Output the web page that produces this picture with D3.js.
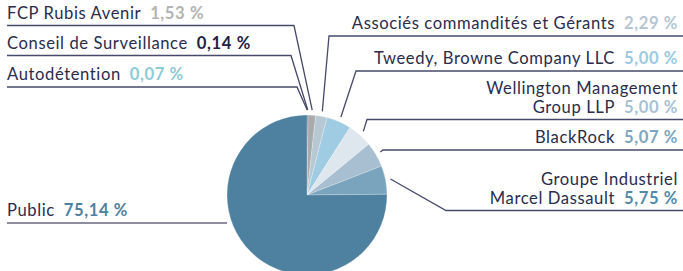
<!DOCTYPE html>
<html>
<head>
<meta charset="utf-8">
<script src="https://cdn.jsdelivr.net/npm/d3@7"></script>
<style>
  body { margin: 0; background: #fff; }
  svg { display: block; font-family: "Lato", sans-serif; }
</style>
</head>
<body>
<div id="chart"></div>
<script>
// shareholders, clockwise from 12 o'clock
var categories = ["Autodétention", "Conseil de Surveillance", "FCP Rubis Avenir",
  "Associés commandités et Gérants", "Tweedy, Browne Company LLC",
  "Wellington Management\nGroup LLP", "BlackRock", "Groupe Industriel\nMarcel Dassault", "Public"];
var values = [0.07, 0.14, 1.53, 2.29, 5.00, 5.00, 5.07, 5.75, 75.14];

// styles
var sliceColors = ["#8ccbd6", "#1f2145", "#a9aaad", "#b7c8d3", "#9fcbe3", "#dfe7ee", "#a7bfd0", "#7aa4bd", "#4e81a0"];
var valueColors = ["#8ccbd6", "#1f2145", "#b3b3b3", "#b5c6d1", "#9cc9e2", "#a7c1d3", "#7ea6c0", "#5589a8", "#4e81a0"];

// label layout: side, y of the underline, x where the leader bends
var labelSide = ["left", "left", "left", "right", "right", "right", "right", "right", "left"];
var labelLineY = [87, 55.5, 25.5, 36, 71, 119.5, 150, 210.5, 223];
var labelElbowX = [297, 291, 294, 329, 356, 367, 383, 446, null];

var width = 683, height = 271;
var cx = 307, cy = 195, R = 80;

var svg = d3.select("#chart").append("svg")
    .attr("width", width)
    .attr("height", height);

var pie = d3.pie().sort(null).value(function(d) { return d; });
var arcs = pie(values);

var arc = d3.arc().innerRadius(0).outerRadius(R);

var g = svg.append("g").attr("transform", "translate(" + cx + "," + cy + ")");
g.selectAll("path")
  .data(arcs)
  .enter().append("path")
    .attr("d", arc)
    .attr("fill", function(d, i) { return sliceColors[i]; })
    .attr("stroke", "#ffffff")
    .attr("stroke-width", 0.4)
    .attr("stroke-opacity", 0.6);

var fmt = d3.format(".2f");
function pct(v) { return fmt(v).replace(".", ",") + " %"; }

// leader lines
arcs.forEach(function(d, i) {
  var side = labelSide[i];
  var ly = labelLineY[i];
  var pts;
  if (labelElbowX[i] === null) {
    pts = [[7, ly], [cx - R, ly]];
  } else {
    var a = (d.startAngle + d.endAngle) / 2;
    var r = R + 5;
    var sx = cx + r * Math.sin(a), sy = cy - r * Math.cos(a);
    if (side === "left") pts = [[7, ly], [labelElbowX[i], ly], [sx, sy]];
    else pts = [[sx, sy], [labelElbowX[i], ly], [width, ly]];
  }
  svg.append("path")
    .attr("d", d3.line()(pts))
    .attr("fill", "none")
    .attr("stroke", i === 8 ? "#8f8da0" : "#47496a")
    .attr("stroke-width", i === 8 ? 2 : 1.3);
});

// labels
categories.forEach(function(name, i) {
  var lines = name.split("\n");
  var side = labelSide[i];
  var ly = labelLineY[i];
  var n = lines.length;
  lines.forEach(function(line, j) {
    var t = svg.append("text")
      .attr("x", side === "left" ? 7 : 678)
      .attr("y", ly - 7 - (n - 1 - j) * 19)
      .attr("text-anchor", side === "left" ? "start" : "end")
      .attr("font-size", 16.6)
      .attr("letter-spacing", 0.6)
      .attr("fill", "#2a2c4c");
    t.append("tspan").text(line);
    if (j === n - 1) {
      t.append("tspan")
        .attr("dx", 9)
        .attr("font-weight", 700)
        .attr("fill", valueColors[i])
        .text(pct(values[i]));
    }
  });
});
</script>
</body>
</html>
